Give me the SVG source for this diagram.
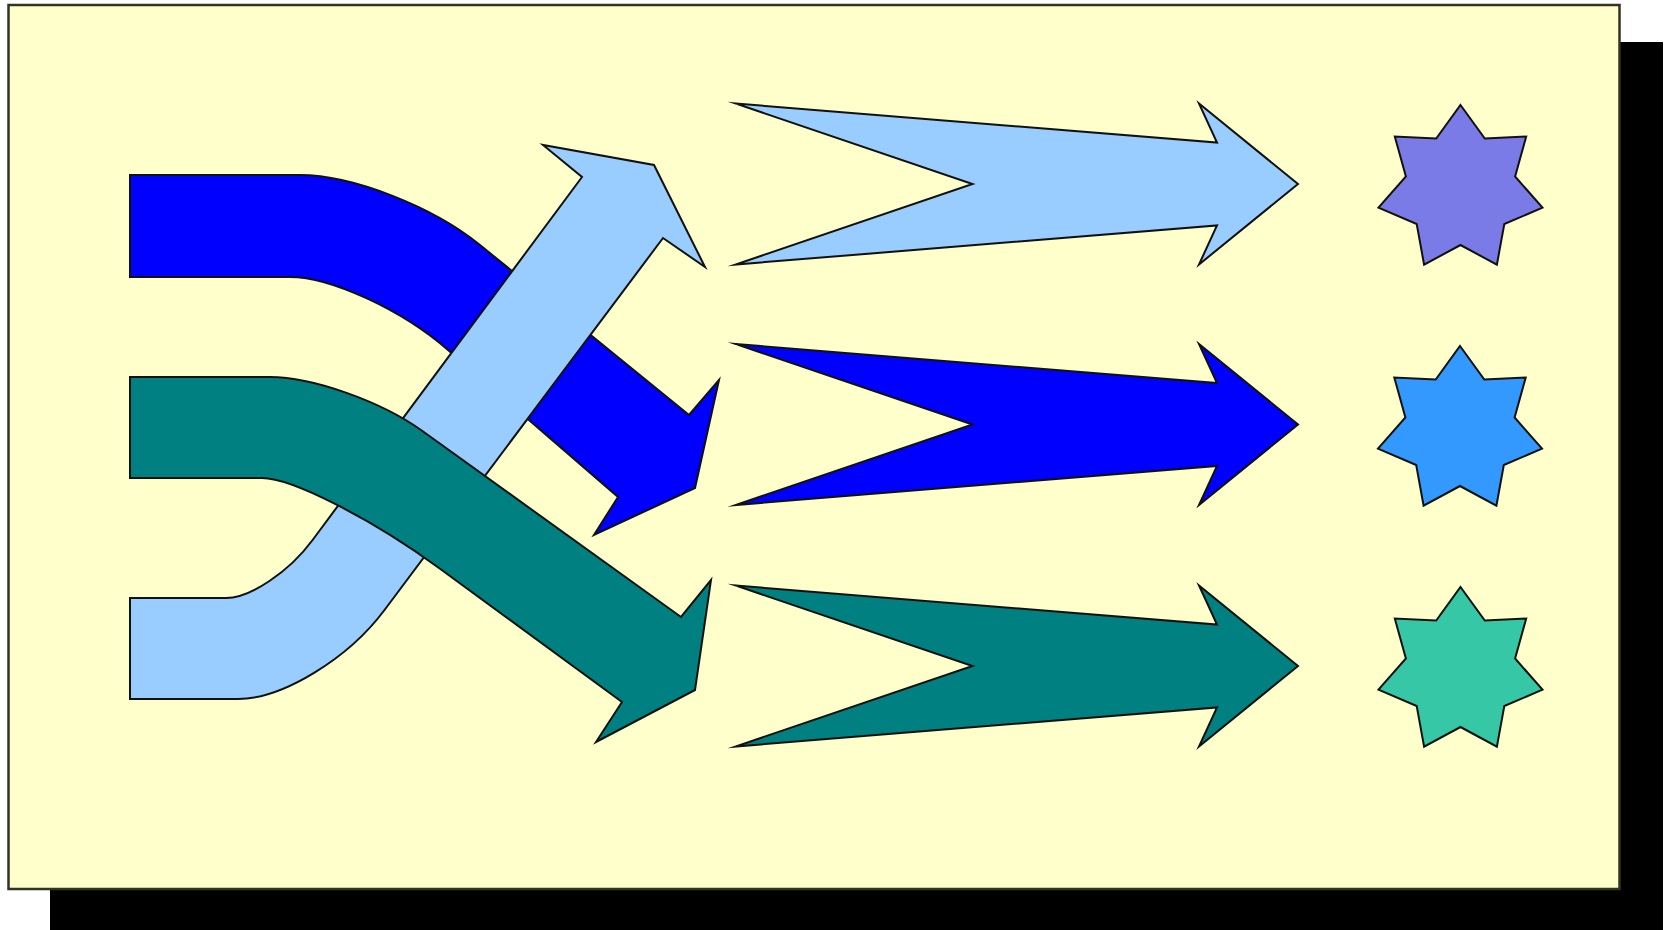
<svg xmlns="http://www.w3.org/2000/svg" width="1669" height="930" viewBox="0 0 1669 930">
  <style>
    .ol { stroke: #111; stroke-width: 2; stroke-linejoin: miter; stroke-miterlimit: 10; }
    .lb { fill: #99CCFF; }
    .bl { fill: #0000FF; }
    .tl { fill: #008080; }
  </style>
  <defs>
    <path id="chev" d="M0,-80.5 L481.5,-41.5 L463.5,-80.5 L562.5,0 L463.5,80.5 L481.5,41.5 L0,80.5 L237,0 Z"/>
    <polygon id="star" points="0,-84 24.3,-50.5 65.7,-52.4 54.6,-12.5 82.0,18.7 43.8,35.0 36.4,75.7 0,56 -36.4,75.7 -43.8,35.0 -82.0,18.7 -54.6,-12.5 -65.7,-52.4 -24.3,-50.5"/>
  </defs>

  <g id="background">
    <rect x="50" y="42" width="1613" height="900" fill="#000"/>
    <rect x="8.5" y="5" width="1611" height="884" fill="#FFFFCC" stroke="#333322" stroke-width="2.5"/>
  </g>

  <g id="bands">
    <g id="band-blue">
      <path class="bl ol" d="M130,175 L300,175 C352,175 433,206.5 480,245 L689,415 L719,380 L695,488 L594,535 L618,497 L448,350 C401.8,309.9 330.7,277 290,277 L130,277 Z"/>
    </g>
    <g id="band-lightblue">
      <path class="lb ol" d="M130,598 L226,598 C250,598 289,572 312.6,540 L582,177 L543,145 L654,165 L705,267 L663,238 L384.5,610 C348,659 282,699 238,699 L130,699 Z"/>
    </g>
    <g id="band-teal">
      <path class="tl ol" d="M130,377 L270,377 C312,377 380,401 421,430 L681,617 L711,580 L695,690 L596,742 L622,702 L440,568.7 C371.8,518.8 291.7,478 262,478 L130,478 Z"/>
    </g>
  </g>

  <g id="chevron-1" transform="translate(735.5,184)"><use href="#chev" class="lb ol"/></g>
  <g id="chevron-2" transform="translate(735.5,424.5)"><use href="#chev" class="bl ol"/></g>
  <g id="chevron-3" transform="translate(735.5,666)"><use href="#chev" class="tl ol"/></g>

  <g id="star-1" transform="translate(1460.5,189)"><use href="#star" fill="#7B7BE8" class="ol"/></g>
  <g id="star-2" transform="translate(1460,430)"><use href="#star" fill="#3399FF" class="ol"/></g>
  <g id="star-3" transform="translate(1460.5,671)"><use href="#star" fill="#36C8A6" class="ol"/></g>
</svg>
